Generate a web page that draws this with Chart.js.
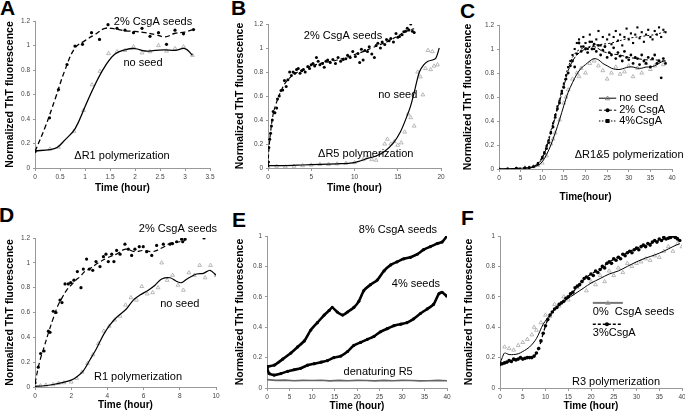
<!DOCTYPE html>
<html>
<head>
<meta charset="utf-8">
<script src="https://cdn.jsdelivr.net/npm/chart.js@4.4.1/dist/chart.umd.min.js"></script>
<style>
  body { margin: 0; background: #fff; width: 685px; height: 415px; position: relative; overflow: hidden; font-family: "Liberation Sans", Arial, sans-serif; }
  canvas { position: absolute; }
  .letter { position: absolute; font-weight: bold; font-size: 21px; line-height: 1; }
</style>
</head>
<body>
<div class="letter" style="left:0px;top:-3px">A</div>
<div class="letter" style="left:231px;top:-3px">B</div>
<div class="letter" style="left:460px;top:0px">C</div>
<div class="letter" style="left:-1px;top:204px">D</div>
<div class="letter" style="left:232px;top:209px">E</div>
<div class="letter" style="left:461px;top:207px">F</div>
<script>
// ---- A: dR1 polymerization ----
const aSeedTime = [0,0.29,0.47,0.64,0.8,0.95,1.13,1.29,1.46,1.64,1.8,1.97,2.14,2.3,2.47,2.63,2.8,2.97,3.17]
const aSeedValue = [0.135,0.41,0.64,0.845,0.995,1.01,1.105,1.05,1.17,1.14,1.125,1.105,1.14,1.075,1.105,1.01,1.125,1.095,1.13]
const aSeedFitTime = [0,0.2,0.4,0.6,0.8,1.0,1.2,1.4,1.6,1.8,2.0,2.2,2.4,2.6,2.8,3.0,3.15]
const aSeedFitValue = [0.135,0.33,0.56,0.80,0.98,1.04,1.09,1.14,1.135,1.12,1.115,1.105,1.09,1.07,1.10,1.11,1.13]
const aNoSeedTime = [0,0.3,0.47,0.78,0.97,1.14,1.3,1.47,1.64,1.8,1.97,2.14,2.3,2.47,2.63,2.8,2.97,3.15]
const aNoSeedValue = [0.14,0.155,0.17,0.30,0.47,0.68,0.79,0.935,0.95,0.96,0.99,0.94,0.95,1.0,0.955,0.975,0.99,0.92]
const aNoFitTime = [0,0.3,0.45,0.6,0.8,1.0,1.2,1.4,1.6,1.8,2.0,2.2,2.4,2.6,2.8,3.0,3.15]
const aNoFitValue = [0.14,0.15,0.17,0.23,0.32,0.5,0.68,0.83,0.93,0.965,0.975,0.955,0.96,0.965,0.96,0.975,0.92]

// ---- B: dR5 polymerization ----
const bSeedTime = [0,0.05,0.1,0.2,0.3,0.4,0.5,0.6,0.8,1.0,1.1,1.3,1.5,1.7,1.9,2.1,2.3,2.5,2.7,2.9,3.1,3.3,3.5,3.7,3.9,4.1,4.3,4.6,4.8,5.0,5.2,5.4,5.6,5.8,6.0,6.3,6.5,6.7,6.9,7.2,7.5,7.8,8.1,8.4,8.7,9.0,9.2,9.5,9.8,10.1,10.4,10.6,10.8,11.0,11.2,11.5,11.7,12.0,12.3,12.5,12.7,13.0,13.2,13.5,13.7,14.0,14.2,14.5,14.8,15.0,15.2,15.5,15.7,15.9,16.1,16.3,16.5,16.7,16.9]
const bSeedValue = [0.02,0.05,0.17,0.24,0.29,0.35,0.4,0.47,0.46,0.5,0.575,0.6,0.645,0.65,0.73,0.68,0.735,0.8,0.77,0.8,0.79,0.82,0.83,0.79,0.81,0.82,0.8,0.845,0.83,0.86,0.87,0.85,0.92,0.89,0.86,0.87,0.84,0.89,0.9,0.88,0.905,0.87,0.92,0.89,0.905,0.91,0.94,0.92,0.97,0.93,0.955,0.88,0.99,0.9,0.98,0.97,1.01,0.95,0.92,1.02,1.04,1.0,1.05,1.03,1.07,1.06,1.08,1.05,1.12,1.09,1.095,1.11,1.135,1.14,1.165,1.15,1.2,1.14,1.13]
const bSeedFitTime = [0,0.1,0.3,0.6,1,1.5,2,3,4,5,6,7,8,9,10,11,12,13,14,15,16,16.9]
const bSeedFitValue = [0.02,0.15,0.3,0.45,0.55,0.64,0.71,0.78,0.82,0.85,0.87,0.885,0.9,0.92,0.945,0.97,1.0,1.03,1.06,1.1,1.14,1.16]
const bNoSeedTime = [0,1,2,3,4,5,6,7,8,9,10,11,11.5,12,12.5,13,13.5,13.8,14.2,14.6,15,15.4,15.8,16.2,16.5,16.9,17.3,17.6,17.9,18.2,18.5,18.8,19.0,19.2,19.6]
const bNoSeedValue = [0.01,0.015,0.01,0.015,0.02,0.025,0.03,0.03,0.035,0.04,0.045,0.07,0.09,0.07,0.065,0.12,0.2,0.24,0.2,0.22,0.19,0.21,0.3,0.45,0.42,0.35,0.80,0.76,0.61,0.83,0.98,0.82,0.97,0.85,0.86]
const bNoFitTime = [0,2,4,6,8,9.5,10.5,11.5,12.5,13.5,14.5,15.3,16,16.5,17,17.5,18,18.5,19,19.4,19.8]
const bNoFitValue = [0.02,0.02,0.025,0.03,0.035,0.04,0.055,0.08,0.1,0.14,0.21,0.3,0.42,0.52,0.66,0.80,0.86,0.89,0.9,0.915,1.0]

// ---- C: dR1&5 polymerization ----
const cNoSeedTime = [0,2,4,6,7,8,9,10,11,12,12.5,13,14,15,15.5,16,17,18,18.5,19,20,21,22,23,24,25,26,27,28,29,30,31,32,33,34,35,36,37,38]
const cNoSeedValue = [0,0,0.005,0.01,0.01,0.02,0.03,0.05,0.11,0.21,0.25,0.3,0.41,0.55,0.6,0.66,0.75,0.8,0.77,0.84,0.8,0.88,0.9,0.86,0.82,0.75,0.8,0.85,0.79,0.81,0.86,0.77,0.84,0.8,0.88,0.83,0.86,0.9,0.87]
const cNoFitTime = [0,4,7,8,9,10,11,12,13,14,15,16,17,18,19,20,21,22,23,24,25,26,27,28,29,30,31,32,33,34,35,36,37,38,38.5]
const cNoFitValue = [0,0.005,0.01,0.02,0.03,0.06,0.12,0.2,0.3,0.41,0.53,0.64,0.72,0.79,0.84,0.87,0.9,0.92,0.91,0.88,0.86,0.84,0.83,0.83,0.84,0.85,0.85,0.84,0.84,0.85,0.85,0.86,0.88,0.9,0.9]
const cDotTime = [0,2,4,6,7,8,9,10,10.5,11,11.5,12,12.5,13,13.5,14,14.5,15,15.5,16,16.5,17,17.5,18,18.5,19,19.5,20,20.5,21,21.5,22,22.5,23,23.5,24,24.5,25,25.5,26,26.5,27,27.5,28,28.5,29,29.5,30,30.5,31,31.5,32,32.5,33,33.5,34,34.5,35,35.5,36,36.5,37,37.5,38,38.5]
const c2Value = [0,0,0.005,0.01,0.01,0.02,0.04,0.09,0.13,0.17,0.22,0.3,0.35,0.43,0.5,0.55,0.63,0.68,0.75,0.8,0.86,0.9,0.85,0.96,1.05,0.98,1.02,1.0,0.97,1.06,1.0,1.04,0.98,1.03,0.95,0.99,1.02,0.93,0.97,0.95,1.01,0.92,0.97,0.94,0.9,0.98,0.93,0.91,0.95,0.88,0.93,0.92,0.87,0.95,0.9,0.88,0.93,0.85,0.92,0.95,0.88,0.9,0.76,0.92,0.88]
const c4Value = [0,0,0.005,0.01,0.015,0.02,0.05,0.1,0.14,0.19,0.24,0.31,0.38,0.45,0.52,0.57,0.65,0.71,0.78,0.85,0.9,0.95,1.0,1.05,1.08,1.02,1.1,1.05,1.0,1.12,1.06,1.0,1.08,1.15,1.03,1.1,1.02,1.08,1.12,1.04,1.1,1.15,1.07,1.12,1.03,1.1,1.17,1.08,1.13,1.05,1.12,1.18,1.09,1.14,1.06,1.12,1.16,1.1,1.08,1.15,1.12,1.18,1.1,1.16,1.14]
const cFitTime = [0,4,7,8,9,10,11,12,13,14,15,16,17,18,19,20,22,24,26,28,30,32,34,36,38,38.5]
const c2FitValue = [0,0.005,0.01,0.02,0.04,0.09,0.18,0.3,0.43,0.56,0.69,0.82,0.9,0.95,0.98,1.0,1.02,0.98,0.96,0.95,0.93,0.92,0.91,0.91,0.9,0.9]
const c4FitValue = [0,0.005,0.01,0.02,0.05,0.1,0.2,0.32,0.45,0.58,0.72,0.85,0.93,0.98,1.0,1.01,1.03,1.04,1.05,1.07,1.09,1.1,1.11,1.12,1.14,1.15]

// ---- D: R1 polymerization ----
const dSeedTime = [0,0.18,0.31,0.5,0.74,0.83,1.01,1.16,1.38,1.49,1.66,1.84,1.97,2.15,2.34,2.54,2.67,2.85,3.0,3.19,3.37,3.59,3.78,3.92,4.05,4.24,4.36,4.51,4.7,4.97,5.16,5.34,5.52,5.76,5.98,6.17,6.45,6.72,7.09,7.46,7.6,7.83,8.1,8.16,8.29,9.34]
const dSeedValue = [0.035,0.16,0.27,0.29,0.45,0.44,0.61,0.6,0.70,0.68,0.83,0.83,0.84,0.86,0.93,0.80,0.95,1.03,0.95,0.94,1.01,0.97,1.05,1.07,1.01,1.07,1.01,1.1,1.07,1.15,1.11,1.06,1.11,1.13,1.13,1.09,1.06,1.14,1.15,1.15,1.155,1.17,1.19,1.17,1.19,1.2]
const dSeedFitTime = [0,0.25,0.5,0.75,1,1.25,1.5,1.75,2,2.25,2.5,2.75,3,3.5,4,4.5,5,5.5,6,6.5,7,7.5,8,8.3]
const dSeedFitValue = [0.03,0.2,0.32,0.44,0.55,0.65,0.72,0.78,0.82,0.86,0.89,0.93,0.95,1.0,1.04,1.07,1.11,1.09,1.1,1.09,1.12,1.16,1.17,1.18]
const dNoSeedTime = [0,0.3,0.6,1,1.3,1.6,2,2.3,2.6,2.9,3.2,3.5,3.8,4.1,4.4,4.7,5,5.3,5.6,5.9,6.2,6.5,6.8,7,7.3,7.6,7.9,8.2,8.5,8.8,9.1,9.4,9.7,10]
const dNoSeedValue = [0.005,0.01,0.015,0.02,0.03,0.035,0.04,0.07,0.12,0.19,0.26,0.35,0.45,0.49,0.54,0.57,0.66,0.72,0.7,0.81,0.75,0.76,0.8,1.0,0.86,0.9,0.82,0.78,0.92,0.9,0.98,0.88,0.98,0.9]
const dNoFitTime = [0,0.5,1,1.5,2,2.3,2.67,3.04,3.4,3.78,4.14,4.5,5.06,5.43,5.8,6.26,6.63,7.0,7.46,7.83,8.1,8.4,8.93,9.3,9.67,10]
const dNoFitValue = [0.005,0.01,0.02,0.035,0.055,0.08,0.13,0.22,0.31,0.42,0.50,0.56,0.63,0.70,0.74,0.78,0.82,0.87,0.88,0.85,0.84,0.87,0.91,0.915,0.94,0.9]

// ---- E: R5 seeding ----
const e8Time = [0,1.6,3.5,5.3,6.8,8.3,9.7,11.2,12.7,13.8,14.5,15.6,16.8,17.9,19.3,20.4,21.5,23,24.5,26,27.5,28.9,30.4,31.9,33.4,34.8,36.3,37.8,38.9,40]
const e8Value = [0.14,0.15,0.19,0.23,0.27,0.31,0.38,0.43,0.48,0.51,0.53,0.50,0.48,0.50,0.53,0.57,0.64,0.68,0.71,0.77,0.81,0.83,0.85,0.86,0.88,0.91,0.93,0.95,0.96,1.0]
const e4Time = [0,0.5,1.6,3.1,4.6,6,7.5,9,10.5,12,13.4,14.9,16.4,17.9,19.3,20.8,22.3,23.8,25.2,26.7,28.2,29.7,31.1,32.6,34.1,35.6,37,38.2,38.9,39.9]
const e4Value = [0.13,0.095,0.085,0.095,0.11,0.12,0.13,0.15,0.16,0.17,0.18,0.20,0.21,0.24,0.28,0.30,0.32,0.34,0.37,0.39,0.41,0.42,0.43,0.455,0.49,0.52,0.55,0.62,0.63,0.605]
const eDenTime = [0,2,4,6,8,10,12,14,16,18,20,22,24,26,28,30,32,34,36,38,40]
const eDenValue = [0.055,0.05,0.052,0.048,0.05,0.049,0.051,0.047,0.05,0.048,0.05,0.049,0.047,0.05,0.048,0.05,0.049,0.047,0.048,0.05,0.048]

// ---- F: R3 polymerization ----
const f3Time = [0,0.5,1,1.5,2,2.5,3,3.5,4,4.5,5,5.5,6,6.5,7,7.5,8,8.5,9,9.5,10,10.5,11,11.5,12,12.5,13,13.5,14,14.5,15,15.5,16,16.5,17,17.5,18,18.5,19,19.5,20,20.5,21,21.5,22,22.5,23,23.5,24,24.5,25,25.5,26,26.5,27,27.5,28,28.5,29,29.5,30,30.5,31,31.5,32,32.5,33,33.5,34,34.5,35,35.5,36,36.5,37,37.5,38,38.5,39,39.5]
const f3Value = [0.155,0.16,0.165,0.17,0.18,0.175,0.19,0.185,0.19,0.2,0.19,0.195,0.2,0.2,0.2,0.21,0.23,0.26,0.31,0.36,0.41,0.45,0.48,0.5,0.52,0.53,0.55,0.56,0.57,0.59,0.6,0.62,0.63,0.66,0.67,0.68,0.7,0.72,0.73,0.72,0.75,0.74,0.77,0.76,0.78,0.8,0.79,0.82,0.83,0.82,0.85,0.84,0.86,0.85,0.88,0.87,0.89,0.9,0.89,0.91,0.92,0.91,0.93,0.94,0.93,0.95,0.94,0.96,0.97,0.96,0.98,0.97,0.99,0.98,0.985,0.99,1.0,0.99,0.98,0.97]
const f3FitTime = [0,2,4,6,7.5,8.5,9.5,10.5,12,14,16,18,20,22,24,26,28,30,32,34,36,38,39.6]
const f3FitValue = [0.155,0.175,0.19,0.2,0.21,0.26,0.36,0.45,0.52,0.57,0.63,0.7,0.75,0.78,0.83,0.86,0.89,0.92,0.94,0.96,0.98,1.0,0.98]
const f0Time = [0,1,2,3,4,5,6,7,7.5,8,9,10,11,12,13,14,15,16,17,18,19,20,21,22,23,24,25,26,27,28,29,30,31,32,33,34,35,36,37,38,39,40]
const f0Value = [0.17,0.27,0.26,0.25,0.28,0.3,0.32,0.35,0.4,0.38,0.43,0.48,0.47,0.55,0.54,0.6,0.58,0.62,0.66,0.7,0.64,0.7,0.68,0.74,0.7,0.77,0.74,0.79,0.76,0.82,0.8,0.82,0.83,0.85,0.84,0.87,0.86,0.9,0.93,0.9,0.95,0.93]
const f0FitTime = [0,0.5,1,2,3,4,5,6.5,8,9.5,11,12.5,14.5,16.5,18.5,20,22,24,26,28,30,32,34,36,38,39.5]
const f0FitValue = [0.16,0.2,0.23,0.22,0.22,0.225,0.24,0.27,0.325,0.42,0.48,0.53,0.58,0.62,0.66,0.69,0.72,0.75,0.77,0.8,0.83,0.855,0.875,0.9,0.93,0.95]

const FONT = '"Liberation Sans", Arial, sans-serif'
const GRAY = '#a8a8a8'

function pts(xs, ys) {
    return xs.map((x, i) => ({x: x, y: ys[i]}))
}

function dots(xs, ys, style, color, r) {
    return {data: pts(xs, ys), showLine: false, pointStyle: style, pointRadius: r,
        backgroundColor: style == 'triangle' ? 'rgba(0,0,0,0)' : color, borderColor: color,
        borderWidth: style == 'triangle' ? 0.8 : 0, order: 2}
}

function curve(xs, ys, dash, color, w, tension) {
    return {data: pts(xs, ys), showLine: true, pointRadius: 0, borderColor: color,
        borderWidth: w, borderDash: dash, tension: tension, order: 1}
}

function mark(ctx, kind, x, y, color) {
    ctx.fillStyle = color
    ctx.strokeStyle = color
    ctx.setLineDash([])
    if (kind == 'circle') { ctx.beginPath(); ctx.arc(x, y, 2, 0, Math.PI * 2); ctx.fill() }
    if (kind == 'rect') ctx.fillRect(x - 2, y - 2, 4, 4)
    if (kind == 'triangle') {
        ctx.lineWidth = 0.8
        ctx.beginPath(); ctx.moveTo(x, y - 2.2); ctx.lineTo(x + 2.2, y + 1.6); ctx.lineTo(x - 2.2, y + 1.6); ctx.closePath(); ctx.stroke()
    }
}

// labels and legend keys, placed in data units of each panel
function notes(items, keys) {
    return {
        id: 'notes',
        afterDatasetsDraw(chart) {
            const ctx = chart.ctx, sx = chart.scales.x, sy = chart.scales.y
            ctx.save()
            keys.forEach(k => {
                const y = sy.getPixelForValue(k.y)
                const x1 = sx.getPixelForValue(k.from), x2 = sx.getPixelForValue(k.to)
                ctx.strokeStyle = k.color
                ctx.lineWidth = k.width
                ctx.setLineDash(k.dash)
                ctx.beginPath(); ctx.moveTo(x1, y); ctx.lineTo(x2, y); ctx.stroke()
                mark(ctx, k.marker, (x1 + x2) / 2, y, k.markColor)
            })
            ctx.font = '11px ' + FONT
            ctx.fillStyle = '#000'
            ctx.textBaseline = 'middle'
            items.forEach(n => {
                ctx.textAlign = n.align || 'center'
                ctx.fillText(n.text, sx.getPixelForValue(n.x), sy.getPixelForValue(n.y))
            })
            ctx.restore()
        }
    }
}

function tickText(v) {
    return String(+v.toFixed(2))
}

function panel(box, xMax, xStep, yMax, xTitle, datasets, items, keys) {
    const padTop = 16, padRight = 12
    const canvas = document.createElement('canvas')
    const w = box.right - box.left + box.yw + padRight
    const h = box.bottom - box.top + padTop + box.xh
    canvas.width = w
    canvas.height = h
    canvas.style.left = (box.left - box.yw) + 'px'
    canvas.style.top = (box.top - padTop) + 'px'
    canvas.style.width = w + 'px'
    canvas.style.height = h + 'px'
    document.body.appendChild(canvas)

    const tickFont = {family: FONT, size: 6.5}
    new Chart(canvas, {
        type: 'scatter',
        data: {datasets: datasets},
        options: {
            responsive: false,
            animation: false,
            devicePixelRatio: 1,
            layout: {padding: {top: padTop, right: padRight, left: 0, bottom: 0}},
            plugins: {legend: {display: false}, tooltip: {enabled: false}},
            scales: {
                x: {
                    type: 'linear', min: 0, max: xMax,
                    afterFit: s => { s.height = box.xh },
                    ticks: {stepSize: xStep, font: tickFont, color: '#444', padding: 2, maxRotation: 0, autoSkip: false, callback: tickText},
                    grid: {drawOnChartArea: false, tickLength: 3, color: '#999'},
                    border: {color: '#999'},
                    title: {display: true, text: xTitle, color: '#000', padding: 0, font: {family: FONT, size: 10, weight: 'bold'}}
                },
                y: {
                    min: 0, max: yMax,
                    afterFit: s => { s.width = box.yw },
                    ticks: {stepSize: 0.2, font: tickFont, color: '#444', padding: 3, autoSkip: false, callback: tickText},
                    grid: {drawOnChartArea: false, tickLength: 2, color: '#999'},
                    border: {color: '#999'},
                    title: {display: true, text: 'Normalized ThT fluorescence', color: '#000', padding: 0, font: {family: FONT, size: 10.5, weight: 'bold'}}
                }
            }
        },
        plugins: [notes(items, keys || [])]
    })
}

panel({left: 35, top: 21, right: 210, bottom: 168, yw: 31, xh: 26}, 3.5, 0.5, 1.2, 'Time (hour)', [
    curve(aSeedFitTime, aSeedFitValue, [5, 3], '#000', 1.3, 0.4),
    curve(aNoFitTime, aNoFitValue, [], '#000', 1.3, 0.4),
    dots(aSeedTime, aSeedValue, 'circle', '#000', 1.6),
    dots(aNoSeedTime, aNoSeedValue, 'triangle', GRAY, 2.2)
], [
    {text: '2% CsgA seeds', x: 2.36, y: 1.196},
    {text: 'no seed', x: 2.16, y: 0.857},
    {text: '\u0394R1 polymerization', x: 1.74, y: 0.098}
])

panel({left: 268, top: 24, right: 441, bottom: 168, yw: 34, xh: 26}, 20, 5, 1.2, 'Time (hour)', [
    curve(bSeedFitTime, bSeedFitValue, [4, 3], '#000', 1.2, 0.4),
    curve(bNoFitTime, bNoFitValue, [], '#000', 1.2, 0.3),
    dots(bSeedTime, bSeedValue, 'circle', '#000', 1.5),
    dots(bNoSeedTime, bNoSeedValue, 'triangle', GRAY, 2.2)
], [
    {text: '2% CsgA seeds', x: 8.67, y: 1.1},
    {text: 'no seed', x: 15.0, y: 0.61},
    {text: '\u0394R5 polymerization', x: 11.3, y: 0.117}
])

panel({left: 499, top: 25, right: 672, bottom: 169, yw: 37, xh: 34}, 40, 5, 1.2, 'Time(hour)', [
    curve(cFitTime, c4FitValue, [2, 2], '#000', 1, 0.3),
    curve(cFitTime, c2FitValue, [4, 2], '#000', 1, 0.3),
    curve(cNoFitTime, cNoFitValue, [], '#000', 1, 0.3),
    dots(cDotTime, c2Value, 'circle', '#000', 1.4),
    dots(cDotTime, c4Value, 'rect', '#000', 1.5),
    dots(cNoSeedTime, cNoSeedValue, 'triangle', GRAY, 2.2)
], [
    {text: 'no seed', x: 27.8, y: 0.59, align: 'left'},
    {text: '2% CsgA', x: 27.8, y: 0.49, align: 'left'},
    {text: '4%CsgA', x: 27.8, y: 0.40, align: 'left'},
    {text: '\u0394R1&5 polymerization', x: 30.1, y: 0.117}
], [
    {from: 23.1, to: 27.1, y: 0.59, dash: [], color: '#000', width: 1, marker: 'triangle', markColor: '#777'},
    {from: 23.1, to: 27.1, y: 0.49, dash: [3, 2], color: '#000', width: 1, marker: 'circle', markColor: '#000'},
    {from: 23.1, to: 27.1, y: 0.40, dash: [1.5, 1.5], color: '#000', width: 1, marker: 'rect', markColor: '#000'}
])

panel({left: 35, top: 238, right: 216, bottom: 387, yw: 31, xh: 24}, 10, 2, 1.2, 'Time (hour)', [
    curve(dSeedFitTime, dSeedFitValue, [5, 3], '#000', 1.2, 0.4),
    curve(dNoFitTime, dNoFitValue, [], '#000', 1.2, 0.3),
    dots(dSeedTime, dSeedValue, 'circle', '#000', 1.6),
    dots(dNoSeedTime, dNoSeedValue, 'triangle', GRAY, 2.2)
], [
    {text: '2% CsgA seeds', x: 7.9, y: 1.27},
    {text: 'no seed', x: 8.0, y: 0.672},
    {text: 'R1 polymerization', x: 5.69, y: 0.08}
])

panel({left: 267, top: 236, right: 447, bottom: 388, yw: 33, xh: 24}, 40, 5, 1, 'Time (hour)', [
    curve(eDenTime, eDenValue, [], '#666', 1.6, 0),
    curve(e8Time, e8Value, [], '#000', 2.6, 0.2),
    curve(e4Time, e4Value, [], '#000', 2.6, 0.2),
    dots(e8Time, e8Value, 'circle', '#000', 1.6),
    dots(e4Time, e4Value, 'circle', '#000', 1.6)
], [
    {text: '8% CsgA seeds', x: 29.1, y: 1.04},
    {text: '4% seeds', x: 33.1, y: 0.684},
    {text: 'denaturing R5', x: 24.7, y: 0.105}
])

panel({left: 500, top: 236, right: 682, bottom: 388, yw: 37, xh: 24}, 40, 5, 1, 'Time (hour)', [
    curve(f3FitTime, f3FitValue, [4, 3], '#000', 1.3, 0.3),
    curve(f0FitTime, f0FitValue, [], '#000', 1, 0.3),
    dots(f3Time, f3Value, 'circle', '#000', 1.8),
    dots(f0Time, f0Value, 'triangle', GRAY, 2.2)
], [
    {text: '0%  CsgA seeds', x: 20.4, y: 0.5, align: 'left'},
    {text: '3%CsgA', x: 20.4, y: 0.36, align: 'left'},
    {text: 'R3 polymerization', x: 25.5, y: 0.04}
], [
    {from: 20.4, to: 27.0, y: 0.56, dash: [], color: '#777', width: 2, marker: 'triangle', markColor: '#999'},
    {from: 20.4, to: 26.6, y: 0.42, dash: [3, 2], color: '#000', width: 1.5, marker: 'circle', markColor: '#000'}
])
</script>
</body>
</html>
